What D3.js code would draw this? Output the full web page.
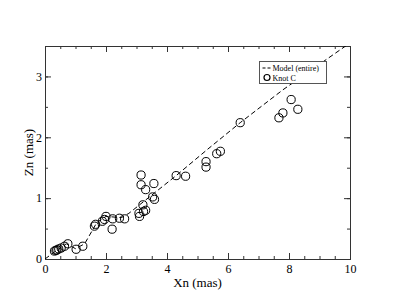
<!DOCTYPE html>
<html>
<head>
<meta charset="utf-8">
<script src="https://cdn.jsdelivr.net/npm/d3@7"></script>
<style>
  body { margin: 0; background: #fff; }
  text { font-family: "Liberation Serif", "DejaVu Serif", serif; fill: #000; }
</style>
</head>
<body>
<div id="chart"></div>
<script>
///////////////////////////////////////////////////////////////////////////
///////////////////////////////// Data ////////////////////////////////////
///////////////////////////////////////////////////////////////////////////

//Knot C positions (mas)
var knotX = [0.31, 0.36, 0.39, 0.45, 0.53, 0.64, 0.75, 1.02, 1.24,
  1.62, 1.66, 1.88, 1.95, 2.0, 2.2, 2.22, 2.44, 2.61,
  3.08, 3.10, 3.15, 3.15, 3.21, 3.23, 3.30, 3.30, 3.53, 3.57, 3.59,
  4.3, 4.61, 5.28, 5.28, 5.63, 5.75, 6.4,
  7.67, 7.80, 8.07, 8.29];
var knotY = [0.13, 0.14, 0.15, 0.165, 0.18, 0.21, 0.25, 0.16, 0.21,
  0.54, 0.57, 0.62, 0.65, 0.70, 0.49, 0.66, 0.67, 0.66,
  0.75, 0.70, 1.38, 1.22, 0.89, 0.78, 1.14, 0.80, 1.02, 1.24, 0.98,
  1.37, 1.36, 1.60, 1.51, 1.73, 1.77, 2.24,
  2.32, 2.40, 2.62, 2.46];

//Model (entire) curve
var modelX = [0, 0.4, 0.7, 1.0, 1.3, 1.7, 2.0, 2.5, 2.75, 3.5, 4.3, 5.3, 6.4, 7.8, 10];
var modelY = [0, 0.15, 0.25, 0.17, 0.25, 0.60, 0.70, 0.68, 0.75, 1.05, 1.37, 1.79, 2.24, 2.78, 3.55];

var xTicks = [0, 2, 4, 6, 8, 10];
var yTicks = [0, 1, 2, 3];
var legendLabels = ["Model (entire)", "Knot C"];

///////////////////////////////////////////////////////////////////////////
//////////////////////////////// Setup ////////////////////////////////////
///////////////////////////////////////////////////////////////////////////

var width = 395, height = 305;
var plot = { left: 45, right: 350, top: 46, bottom: 259 };

var svg = d3.select("#chart").append("svg")
  .attr("width", width)
  .attr("height", height);

var x = d3.scaleLinear().domain([0, 10]).range([plot.left, plot.right]);
var y = d3.scaleLinear().domain([0, 3.5]).range([plot.bottom, plot.top]);

svg.append("defs").append("clipPath")
  .attr("id", "clip")
  .append("rect")
  .attr("x", plot.left).attr("y", plot.top)
  .attr("width", plot.right - plot.left)
  .attr("height", plot.bottom - plot.top);

///////////////////////////////////////////////////////////////////////////
//////////////////////////////// Axes /////////////////////////////////////
///////////////////////////////////////////////////////////////////////////

var xMinor = d3.range(0, 10.01, 0.5);
var yMinor = d3.range(0, 3.51, 0.5);

function addAxis(axis, translate) {
  svg.append("g")
    .attr("transform", translate)
    .call(axis)
    .call(function(g) { g.select(".domain").remove(); })
    .call(function(g) { g.selectAll("line").attr("stroke", "#333"); });
}

//minor ticks, inside, all four sides
addAxis(d3.axisBottom(x).tickValues(xMinor).tickSize(-3).tickFormat(""), "translate(0," + plot.bottom + ")");
addAxis(d3.axisTop(x).tickValues(xMinor).tickSize(-3).tickFormat(""), "translate(0," + plot.top + ")");
addAxis(d3.axisLeft(y).tickValues(yMinor).tickSize(-3).tickFormat(""), "translate(" + plot.left + ",0)");
addAxis(d3.axisRight(y).tickValues(yMinor).tickSize(-3).tickFormat(""), "translate(" + plot.right + ",0)");

//major ticks with labels
var xAxis = svg.append("g")
  .attr("transform", "translate(0," + plot.bottom + ")")
  .call(d3.axisBottom(x).tickValues(xTicks).tickSize(-6).tickPadding(5).tickFormat(d3.format("d")));
var yAxis = svg.append("g")
  .attr("transform", "translate(" + plot.left + ",0)")
  .call(d3.axisLeft(y).tickValues(yTicks).tickSize(-6).tickPadding(3).tickFormat(d3.format("d")));
[xAxis, yAxis].forEach(function(g) {
  g.select(".domain").remove();
  g.selectAll("line").attr("stroke", "#333");
  g.selectAll("text").style("font-family", "Liberation Serif, serif").style("font-size", "12px");
});
addAxis(d3.axisTop(x).tickValues(xTicks).tickSize(-6).tickFormat(""), "translate(0," + plot.top + ")");
addAxis(d3.axisRight(y).tickValues(yTicks).tickSize(-6).tickFormat(""), "translate(" + plot.right + ",0)");

//frame
svg.append("rect")
  .attr("x", plot.left + 0.5).attr("y", plot.top + 0.5)
  .attr("width", plot.right - plot.left)
  .attr("height", plot.bottom - plot.top)
  .style("fill", "none")
  .style("stroke", "#333");

//axis titles
svg.append("text")
  .attr("x", (plot.left + plot.right) / 2)
  .attr("y", 287)
  .style("text-anchor", "middle")
  .style("font-size", "13px")
  .text("Xn (mas)");

svg.append("text")
  .attr("transform", "translate(33," + ((plot.top + plot.bottom) / 2) + ") rotate(-90)")
  .style("text-anchor", "middle")
  .style("font-size", "13px")
  .text("Zn (mas)");

///////////////////////////////////////////////////////////////////////////
//////////////////////////////// Marks ////////////////////////////////////
///////////////////////////////////////////////////////////////////////////

var modelData = modelX.map(function(d, i) { return [d, modelY[i]]; });
var knotData = knotX.map(function(d, i) { return [d, knotY[i]]; });

var line = d3.line()
  .x(function(d) { return x(d[0]); })
  .y(function(d) { return y(d[1]); });

svg.append("path")
  .datum(modelData)
  .attr("clip-path", "url(#clip)")
  .attr("d", line)
  .style("fill", "none")
  .style("stroke", "#000")
  .style("stroke-width", 1)
  .style("stroke-dasharray", "5,3");

svg.selectAll(".knot")
  .data(knotData)
  .enter().append("circle")
  .attr("class", "knot")
  .attr("cx", function(d) { return x(d[0]); })
  .attr("cy", function(d) { return y(d[1]); })
  .attr("r", 4.1)
  .style("fill", "none")
  .style("stroke", "#000")
  .style("stroke-width", 1);

///////////////////////////////////////////////////////////////////////////
/////////////////////////////// Legend ////////////////////////////////////
///////////////////////////////////////////////////////////////////////////

var legend = svg.append("g").attr("transform", "translate(259.5,61.5)");

legend.append("rect")
  .attr("width", 67)
  .attr("height", 22)
  .style("fill", "#fff")
  .style("stroke", "#555");

legend.append("line")
  .attr("x1", 3).attr("x2", 11)
  .attr("y1", 6.5).attr("y2", 6.5)
  .style("stroke", "#000")
  .style("stroke-dasharray", "3,2");

legend.append("circle")
  .attr("cx", 7.5).attr("cy", 16)
  .attr("r", 3)
  .style("fill", "none")
  .style("stroke", "#000")
  .style("stroke-width", 1.2);

legend.selectAll(".legend-text")
  .data(legendLabels)
  .enter().append("text")
  .attr("class", "legend-text")
  .attr("x", 13)
  .attr("y", function(d, i) { return 9 + i * 10; })
  .style("font-size", "8px")
  .text(function(d) { return d; });
</script>
</body>
</html>
